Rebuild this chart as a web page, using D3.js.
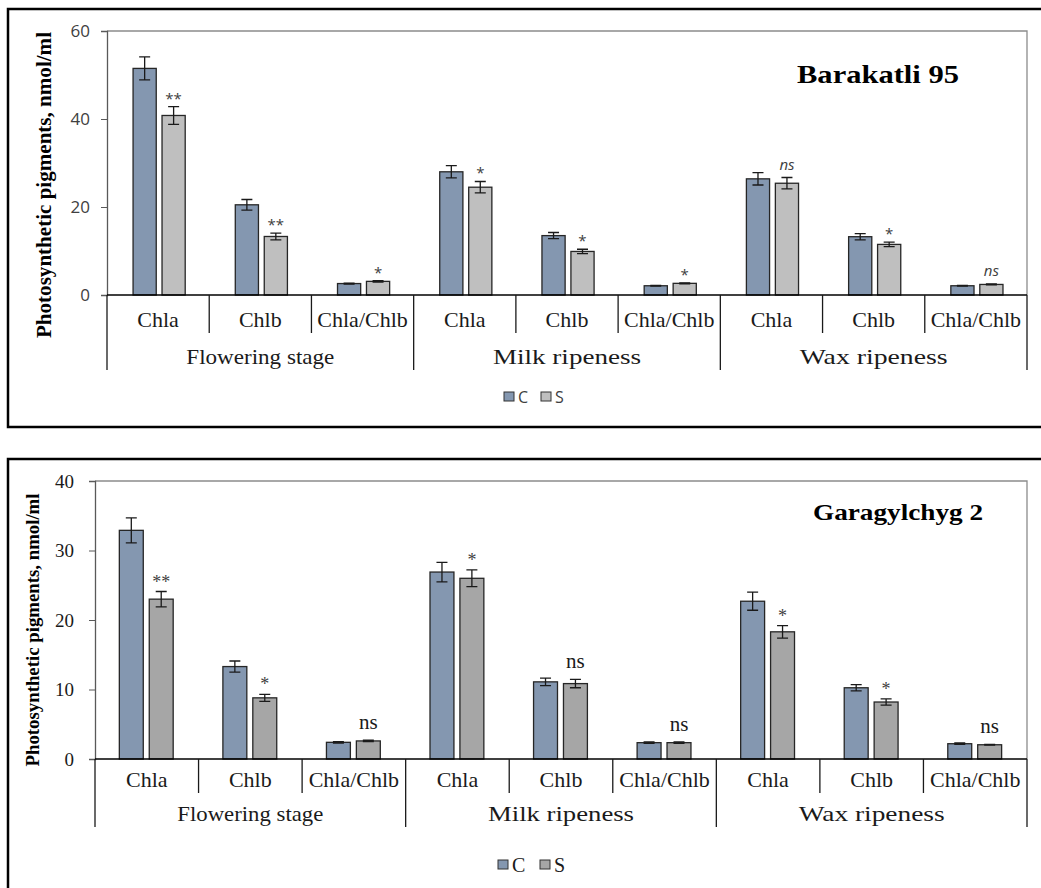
<!DOCTYPE html>
<html>
<head>
<meta charset="utf-8">
<script src="https://cdn.jsdelivr.net/npm/d3@7"></script>
<style>
  html, body { margin: 0; padding: 0; background: #fff; }
  svg { display: block; }
</style>
</head>
<body>
<svg id="chart" width="1041" height="888"></svg>
<script>
// ---------- DATA ----------
const stages = ["Flowering stage", "Milk ripeness", "Wax ripeness"];
const pigments = ["Chla", "Chlb", "Chla/Chlb"];
const seriesNames = ["C", "S"];

// Barakatli 95 (order: stage x pigment)
const barakatliC    = [51.5, 20.5, 2.6, 28.0, 13.5, 2.1, 26.4, 13.25, 2.1];
const barakatliCErr = [2.6, 1.2, 0.1, 1.4, 0.7, 0.1, 1.4, 0.7, 0.1];
const barakatliS    = [40.8, 13.3, 3.1, 24.5, 9.9, 2.65, 25.4, 11.5, 2.4];
const barakatliSErr = [2.0, 0.75, 0.15, 1.3, 0.5, 0.1, 1.3, 0.5, 0.1];
const barakatliSig  = ["**", "**", "*", "*", "*", "*", "ns", "*", "ns"];
const barakatliTicks = [0, 20, 40, 60];

// Garagylchyg 2
const garagylchygC    = [32.9, 13.3, 2.4, 26.9, 11.1, 2.35, 22.7, 10.25, 2.2];
const garagylchygCErr = [1.8, 0.8, 0.1, 1.4, 0.55, 0.1, 1.3, 0.45, 0.1];
const garagylchygS    = [23.0, 8.8, 2.6, 26.0, 10.85, 2.35, 18.3, 8.2, 2.05];
const garagylchygSErr = [1.1, 0.5, 0.1, 1.2, 0.6, 0.1, 0.9, 0.45, 0.05];
const garagylchygSig  = ["**", "*", "ns", "*", "ns", "ns", "*", "*", "ns"];
const garagylchygTicks = [0, 10, 20, 30, 40];

const yLabel = "Photosynthetic pigments, nmol/ml";

// ---------- DRAW ----------
const svg = d3.select("#chart");
const colC = "#8497B0";

function drawChart(cfg) {
  const g = svg.append("g");
  // outer frame
  g.append("rect").attr("x", 8).attr("y", cfg.frameTop).attr("width", 1045)
    .attr("height", cfg.frameH).attr("fill", "none").attr("stroke", "#000").attr("stroke-width", 2.5);

  const cats = [];
  stages.forEach((s, i) => pigments.forEach((p, j) => cats.push({stage: s, pig: p, id: i * 3 + j})));

  const x = d3.scaleBand().domain(cats.map(d => d.id)).range([cfg.left, cfg.right]).padding(0);
  const bw = x.bandwidth();
  const xs = d3.scaleBand().domain(seriesNames).range([cfg.inL * bw, cfg.inR * bw]).paddingInner(0.2);
  const y = d3.scaleLinear().domain([0, cfg.max]).range([cfg.y0, cfg.top]);

  // plot area border (top/right)
  g.append("path").attr("d", `M${cfg.left},${cfg.top}H${cfg.right}V${cfg.y0}`)
    .attr("fill", "none").attr("stroke", "#8c8c8c").attr("stroke-width", 1.3);

  // y axis
  const yAxis = g.append("g").attr("transform", `translate(${cfg.left},0)`)
    .call(d3.axisLeft(y).tickValues(cfg.ticks).tickSize(6).tickPadding(cfg.tickPad));
  yAxis.select(".domain").attr("stroke", "#595959").attr("stroke-width", 1.3);
  yAxis.selectAll(".tick line").attr("stroke", "#595959");
  yAxis.selectAll(".tick text").attr("font-family", cfg.tickFont).attr("font-size", cfg.tickSize)
    .attr("fill", cfg.tickColor);

  // y label
  g.append("text").attr("transform", `translate(${cfg.ylabX},${cfg.ylabY}) rotate(-90)`)
    .attr("text-anchor", "middle").attr("font-family", "Liberation Serif").attr("font-weight", "bold")
    .attr("font-size", cfg.ylabSize).attr("textLength", cfg.ylabLen).attr("lengthAdjust", "spacingAndGlyphs")
    .text(yLabel);

  // bars
  const rows = [];
  cats.forEach((c, i) => {
    rows.push({cat: c.id, s: "C", v: cfg.C[i], e: cfg.CErr[i]});
    rows.push({cat: c.id, s: "S", v: cfg.S[i], e: cfg.SErr[i], sig: cfg.sig[i]});
  });
  const bg = g.append("g");
  bg.selectAll("rect").data(rows).join("rect")
    .attr("x", d => x(d.cat) + xs(d.s)).attr("width", xs.bandwidth())
    .attr("y", d => y(d.v)).attr("height", d => y(0) - y(d.v))
    .attr("fill", d => d.s === "C" ? colC : cfg.colS)
    .attr("stroke", "#262626").attr("stroke-width", 1.3);

  // error bars
  const eg = g.append("g").attr("stroke", "#1a1a1a").attr("stroke-width", 1.3).attr("fill", "none");
  eg.selectAll("path").data(rows).join("path")
    .attr("d", d => {
      const cx = x(d.cat) + xs(d.s) + xs.bandwidth() / 2;
      const y1 = y(d.v + d.e), y2 = y(d.v - d.e);
      return `M${cx - 5.5},${y1}H${cx + 5.5}M${cx},${y1}V${y2}M${cx - 5.5},${y2}H${cx + 5.5}`;
    });

  // significance labels
  g.append("g").selectAll("text").data(rows.filter(d => d.sig)).join("text")
    .attr("x", d => x(d.cat) + xs(d.s) + xs.bandwidth() / 2)
    .attr("y", d => y(d.v + d.e) - (d.sig === "ns" ? cfg.nsOff : cfg.starOff))
    .attr("text-anchor", "middle")
    .attr("font-family", cfg.sigFont)
    .attr("font-style", d => d.sig === "ns" ? cfg.nsStyle : "normal")
    .attr("font-size", d => d.sig === "ns" ? cfg.nsSize : cfg.starSize)
    .attr("fill", d => d.sig === "ns" ? cfg.nsColor : cfg.starColor)
    .text(d => d.sig);

  // x axis baseline
  g.append("line").attr("x1", cfg.left).attr("x2", cfg.right).attr("y1", cfg.y0).attr("y2", cfg.y0)
    .attr("stroke", "#000").attr("stroke-width", 1.3);

  // category separators
  const sepG = g.append("g").attr("stroke", "#1a1a1a").attr("stroke-width", 1.3);
  const bounds = d3.range(cats.length + 1);
  sepG.selectAll("line").data(bounds).join("line")
    .attr("x1", i => i < cats.length ? x(i) : cfg.right)
    .attr("x2", i => i < cats.length ? x(i) : cfg.right)
    .attr("y1", cfg.y0)
    .attr("y2", i => (i % 3 === 0) ? cfg.grpTickEnd : cfg.catTickEnd);

  // category labels
  g.append("g").selectAll("text").data(cats).join("text")
    .attr("x", d => x(d.id) + bw / 2).attr("y", cfg.catY)
    .attr("text-anchor", "middle").attr("font-family", "Liberation Serif")
    .attr("font-size", cfg.catSize).attr("fill", "#1a1a1a")
    .text(d => d.pig);

  // stage labels
  g.append("g").selectAll("text").data(stages).join("text")
    .attr("x", (d, i) => (x(i * 3) + (i * 3 + 3 < cats.length ? x(i * 3 + 3) : cfg.right)) / 2)
    .attr("y", cfg.grpY)
    .attr("text-anchor", "middle").attr("font-family", "Liberation Serif")
    .attr("font-size", cfg.grpSize).attr("fill", "#1a1a1a")
    .attr("textLength", cfg.grpLen).attr("lengthAdjust", "spacingAndGlyphs")
    .text(d => d);

  // title
  g.append("text").attr("x", cfg.titleX).attr("y", cfg.titleY)
    .attr("font-family", "Liberation Serif").attr("font-weight", "bold")
    .attr("font-size", cfg.titleSize).attr("textLength", cfg.titleLen).attr("lengthAdjust", "spacingAndGlyphs")
    .text(cfg.title);

  // legend
  const lg = g.append("g").selectAll("g").data(seriesNames).join("g")
    .attr("transform", (d, i) => `translate(${cfg.legX[i]},${cfg.legY})`);
  lg.append("rect").attr("x", 0).attr("y", -5).attr("width", 10).attr("height", 9)
    .attr("fill", d => d === "C" ? colC : cfg.colS).attr("stroke", "#333").attr("stroke-width", 1);
  lg.append("text").attr("x", cfg.legTextDx).attr("y", 0).attr("dy", "0.35em")
    .attr("font-family", cfg.legFont).attr("font-size", cfg.legSize).attr("fill", cfg.legColor)
    .text(d => d);
}

drawChart({
  frameTop: 9, frameH: 418,
  left: 107, right: 1027, top: 31, y0: 295, max: 60, ticks: barakatliTicks,
  inL: 0.255, inR: 0.765,
  C: barakatliC, CErr: barakatliCErr, S: barakatliS, SErr: barakatliSErr, sig: barakatliSig,
  colS: "#BFBFBF",
  tickFont: "Open Sans", tickSize: 17, tickColor: "#404040", tickPad: 11,
  ylabX: 51, ylabY: 185, ylabSize: 21, ylabLen: 306,
  sigFont: "Open Sans", starSize: 15, nsSize: 15, nsStyle: "italic", starOff: 3, nsOff: 8,
  starColor: "#404040", nsColor: "#404040",
  catTickEnd: 333, grpTickEnd: 370, catY: 327, catSize: 22, grpY: 364, grpSize: 22, grpLen: 148,
  title: "Barakatli 95", titleX: 797, titleY: 83, titleSize: 25, titleLen: 162,
  legX: [504, 541], legY: 397, legTextDx: 14, legFont: "Open Sans", legSize: 16, legColor: "#404040"
});

drawChart({
  frameTop: 459, frameH: 460,
  left: 95, right: 1027, top: 481, y0: 759, max: 40, ticks: garagylchygTicks,
  inL: 0.235, inR: 0.755,
  C: garagylchygC, CErr: garagylchygCErr, S: garagylchygS, SErr: garagylchygSErr, sig: garagylchygSig,
  colS: "#A6A6A6",
  tickFont: "Liberation Serif", tickSize: 19, tickColor: "#1a1a1a", tickPad: 15,
  ylabX: 39, ylabY: 630, ylabSize: 19, ylabLen: 273,
  sigFont: "Liberation Serif", starSize: 18, nsSize: 21, nsStyle: "normal", starOff: 4, nsOff: 11,
  starColor: "#404040", nsColor: "#1a1a1a",
  catTickEnd: 793, grpTickEnd: 827, catY: 787, catSize: 22, grpY: 821, grpSize: 22, grpLen: 146,
  title: "Garagylchyg 2", titleX: 813, titleY: 520, titleSize: 24, titleLen: 170,
  legX: [498, 540], legY: 865, legTextDx: 14, legFont: "Liberation Serif", legSize: 20, legColor: "#1a1a1a"
});
</script>
</body>
</html>
